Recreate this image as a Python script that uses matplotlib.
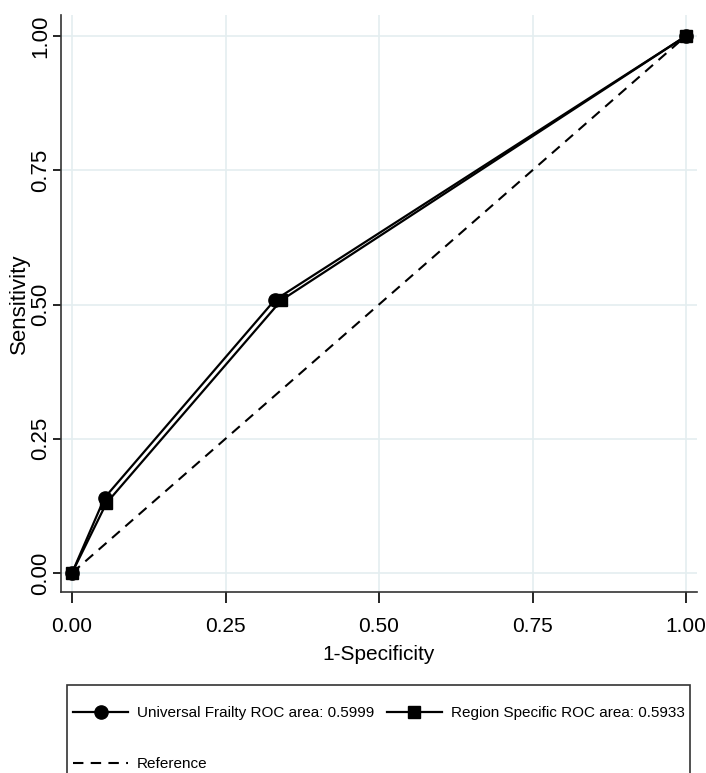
import matplotlib.pyplot as plt
from matplotlib.patches import Rectangle

# ROC points
univ_fpr = [0.0, 0.053, 0.330, 1.0]
univ_tpr = [0.0, 0.140, 0.508, 1.0]
region_fpr = [0.0, 0.056, 0.341, 1.0]
region_tpr = [0.0, 0.130, 0.508, 1.0]
ref_x = [0.0, 1.0]
ref_y = [0.0, 1.0]
ticks = [0.0, 0.25, 0.50, 0.75, 1.0]
tick_labels = ['0.00', '0.25', '0.50', '0.75', '1.00']
labels = ['Universal Frailty ROC area: 0.5999',
          'Region Specific ROC area: 0.5933',
          'Reference']

plt.rcParams['font.family'] = ['Liberation Sans', 'DejaVu Sans']

W, H = 706, 773
fig = plt.figure(figsize=(W / 100, H / 100), dpi=100)
ax = fig.add_axes([61 / W, 1 - 592 / H, 636 / W, 577 / H])

grid_col = '#e4eef0'
for t in ticks:
    ax.axhline(t, color=grid_col, lw=1.2, zorder=0)
    ax.axvline(t, color=grid_col, lw=1.2, zorder=0)

l1, = ax.plot(univ_fpr, univ_tpr, color='black', lw=1.6, marker='o', ms=9.5,
              zorder=3)
l2, = ax.plot(region_fpr, region_tpr, color='black', lw=1.6, marker='s', ms=9,
              zorder=3)
l3, = ax.plot(ref_x, ref_y, color='black', lw=1.5, ls=(0, (5, 3.5)), zorder=2)

# x=0 at 72px, x=1 at 686px ; y=0 at 573px, y=1 at 36px
ax.set_xlim(-11 / 614, 1 + 11 / 614)
ax.set_ylim(-19 / 537, 1 + 21 / 537)
ax.set_xticks(ticks)
ax.set_xticklabels(tick_labels, fontsize=15)
ax.set_yticks(ticks)
ax.set_yticklabels(tick_labels, rotation=90, va='center', fontsize=16)
ax.tick_params(axis='x', direction='out', length=8, width=1.2, pad=10)
ax.tick_params(axis='y', direction='out', length=6, width=1.2, pad=1)

for s in ['top', 'right']:
    ax.spines[s].set_visible(False)
for s in ['left', 'bottom']:
    ax.spines[s].set_linewidth(1.2)
    ax.spines[s].set_color('#333333')

ax.set_xlabel('1-Specificity', fontsize=15)
ax.xaxis.set_label_coords(0.5, -(645 - 592) / 577)
ax.set_ylabel('Sensitivity', fontsize=16)
ax.yaxis.set_label_coords(-(61 - 30) / 636, 0.5)

# legend box runs off the bottom edge like in the source
fig.add_artist(Rectangle((67 / W, -0.05), (690 - 67) / W, (H - 685) / H + 0.05,
                         transform=fig.transFigure, fill=False, lw=1.2,
                         ec='#333333'))
leg = fig.legend([l1, l3, l2], [labels[0], labels[2], labels[1]],
                 loc='upper left', ncol=2, frameon=False,
                 bbox_to_anchor=(73 / W, 1 - 706 / H), borderaxespad=0,
                 borderpad=0, fontsize=11,
                 handlelength=3.6, handletextpad=0.6, columnspacing=0.8,
                 labelspacing=2.45)

fig.savefig('out.png', dpi=100)
